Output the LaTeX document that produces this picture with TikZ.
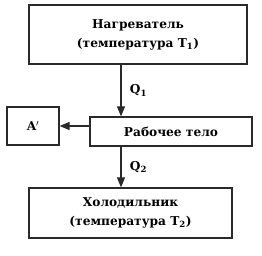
\documentclass[tikz,border=0pt]{standalone}
\usepackage{fontspec}
\setmainfont{DejaVu Serif}
\usepackage{tikz}
\usetikzlibrary{arrows.meta,positioning,calc}
\definecolor{ink}{HTML}{2A2A2A}

\begin{document}
\begin{tikzpicture}[
  x=1pt, y=1pt,
  font=\bfseries\fontsize{12.2}{19}\selectfont,
  box/.style={draw=ink, line width=1.2pt, fill=white, align=center, inner sep=0pt},
  arrow/.style={-{Triangle[length=10pt,width=8pt]}, line width=1.2pt, draw=ink, fill=ink}
]
  \useasboundingbox (0,0) rectangle (262,-256);
  \node[box, minimum width=218, minimum height=59] (heater) at (138,-34.5) {Нагреватель\\(температура T\textsubscript{1})};
  \node[box, minimum width=162, minimum height=29] (body) at (171,-131.5) {Рабочее тело};
  \node[box, minimum width=52, minimum height=38] (work) at (33,-126) {A$'$};
  \node[box, minimum width=203, minimum height=50] (cooler) at (130.5,-213) {Холодильник\\(температура T\textsubscript{2})};

  \coordinate (top) at (121,0);
  \draw[arrow] (heater.south -| top) -- node[right=5pt] {Q\textsubscript{1}} (body.north -| top);
  \draw[arrow] (body.south -| top) -- node[right=5pt] {Q\textsubscript{2}} (cooler.north -| top);
  \draw[arrow] (body.west |- work) -- (work.east);
\end{tikzpicture}
\end{document}
